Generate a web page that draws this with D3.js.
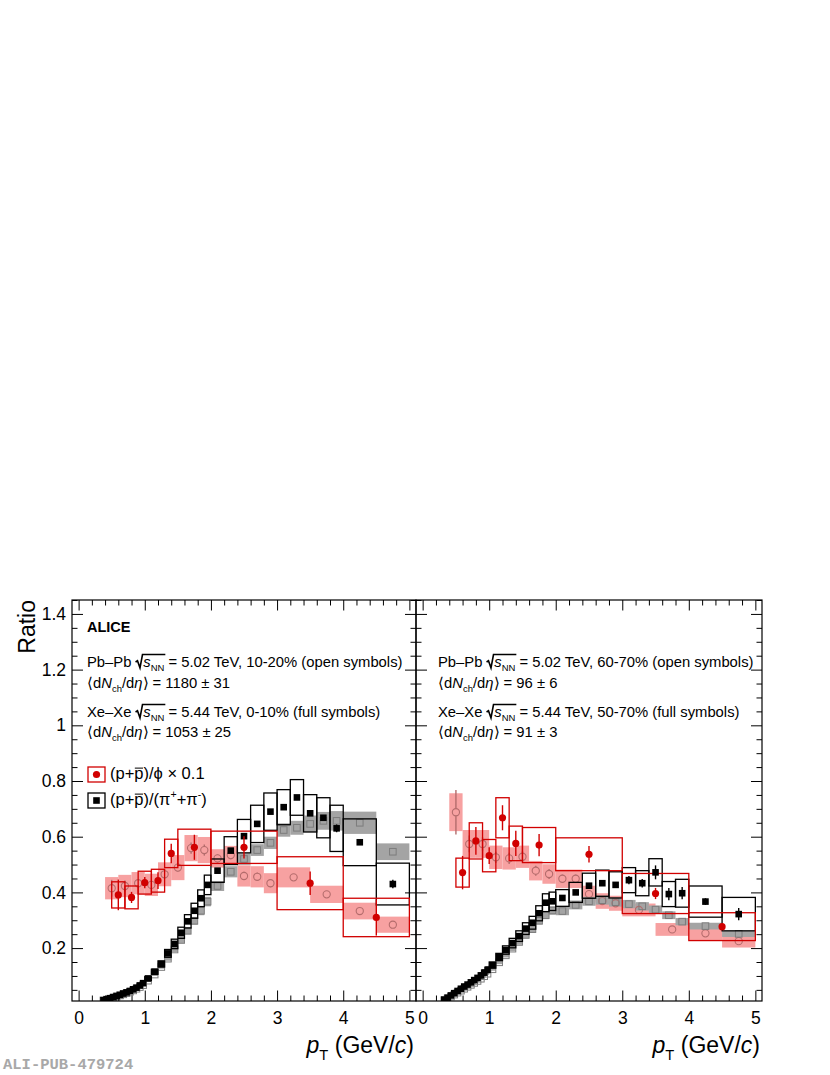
<!DOCTYPE html>
<html>
<head>
<meta charset="utf-8">
<script src="https://cdn.jsdelivr.net/npm/d3@7"></script>
<style>
  body { margin: 0; background: #fff; }
  svg { display: block; font-family: "Liberation Sans", Arial, sans-serif; }
  text { white-space: pre; }
</style>
</head>
<body>
<div id="chart"></div>
<script>
// ---- axes ----
const xTicks = [0, 1, 2, 3, 4, 5];
const yTicks = [0.2, 0.4, 0.6, 0.8, 1, 1.2, 1.4];

// ---- pT bin edges ----
const piEdges = [0.3, 0.35, 0.4, 0.45, 0.5, 0.55, 0.6, 0.65, 0.7, 0.75, 0.8, 0.85, 0.9, 0.95, 1.0,
  1.1, 1.2, 1.3, 1.4, 1.5, 1.6, 1.7, 1.8, 1.9, 2.0, 2.2, 2.4, 2.6, 2.8, 3.0, 3.2, 3.4, 3.6, 3.8, 4.0, 4.5, 5.0];
const phiPbEdges = [0.4, 0.6, 0.8, 1.0, 1.2, 1.4, 1.6, 1.8, 2.0, 2.2, 2.4, 2.6, 2.8, 3.0, 3.5, 4.0, 4.5, 5.0];
const phiXeEdges = [0.5, 0.7, 0.9, 1.1, 1.3, 1.5, 2.0, 3.0, 4.0, 5.0];

// ---- left panel: Xe-Xe 0-10% (full), Pb-Pb 10-20% (open) ----
const xePhiC     = [0.391, 0.382, 0.435, 0.442, 0.540, 0.562, 0.562, 0.433, 0.310];
const xePhiCStat = [0.055, 0.020, 0.020, 0.030, 0.035, 0.045, 0.040, 0.042, 0.065];
const xePhiCSys  = [0.047, 0.041, 0.041, 0.041, 0.051, 0.065, 0.058, 0.095, 0.069];

const pbPhiC     = [0.415, 0.423, 0.433, 0.427, 0.465, 0.489, 0.559, 0.552, 0.522, 0.534, 0.459, 0.456, 0.433, 0.454, 0.393, 0.333, 0.284];
const pbPhiCStat = [0.030, 0.020, 0.015, 0.015, 0.015, 0.015, 0.020, 0.020, 0.015, 0.015, 0.015, 0.015, 0.015, 0.012, 0.012, 0.010, 0.010];
const pbPhiCSys  = [0.040, 0.040, 0.040, 0.040, 0.043, 0.045, 0.047, 0.047, 0.033, 0.033, 0.038, 0.038, 0.036, 0.036, 0.031, 0.030, 0.029];

const xePiC = [null, 0.013, 0.016, 0.020, 0.024, 0.028, 0.032, 0.037, 0.041, 0.046, 0.052, 0.058, 0.066, 0.074,
  0.091, 0.115, 0.143, 0.181, 0.215, 0.255, 0.296, 0.334, 0.379, 0.427,
  0.478, 0.550, 0.602, 0.646, 0.690, 0.706, 0.741, 0.684, 0.668, 0.630, 0.580, 0.430];
const xePiCStat = [null, 0.001, 0.001, 0.001, 0.001, 0.001, 0.001, 0.001, 0.001, 0.001, 0.001, 0.001, 0.001, 0.001,
  0.002, 0.002, 0.002, 0.003, 0.003, 0.003, 0.003, 0.003, 0.004, 0.004,
  0.004, 0.004, 0.005, 0.005, 0.005, 0.006, 0.006, 0.007, 0.010, 0.014, 0.010, 0.015];
const xePiCSys = [null, 0.001, 0.0013, 0.0016, 0.0019, 0.0022, 0.0026, 0.003, 0.0033, 0.0037, 0.0042, 0.0046, 0.0053, 0.0059,
  0.007, 0.009, 0.011, 0.014, 0.017, 0.020, 0.024, 0.027, 0.030, 0.035,
  0.042, 0.050, 0.060, 0.067, 0.067, 0.063, 0.064, 0.067, 0.072, 0.083, 0.084, 0.075];

const pbPiC = [null, 0.012, 0.015, 0.018, 0.022, 0.026, 0.030, 0.034, 0.038, 0.043, 0.048, 0.054, 0.060, 0.067,
  0.083, 0.105, 0.132, 0.162, 0.195, 0.229, 0.262, 0.298, 0.334, 0.367,
  0.423, 0.474, 0.520, 0.552, 0.578, 0.624, 0.632, 0.646, 0.657, 0.657, 0.650, 0.546];
const pbPiCSys = [null, 0.0006, 0.0007, 0.0009, 0.001, 0.0012, 0.0014, 0.0016, 0.0018, 0.002, 0.0023, 0.0026, 0.0029, 0.0032,
  0.004, 0.005, 0.006, 0.0075, 0.009, 0.011, 0.012, 0.014, 0.016, 0.017,
  0.018, 0.020, 0.021, 0.021, 0.022, 0.024, 0.025, 0.030, 0.032, 0.035, 0.040, 0.030];

// ---- right panel: Xe-Xe 50-70% (full), Pb-Pb 60-70% (open) ----
const xePhiP     = [0.471, 0.585, 0.532, 0.668, 0.576, 0.570, 0.537, 0.396, 0.277];
const xePhiPStat = [0.060, 0.050, 0.030, 0.045, 0.045, 0.040, 0.030, 0.020, 0.010];
const xePhiPSys  = [0.052, 0.065, 0.058, 0.072, 0.062, 0.063, 0.059, 0.072, 0.050];

const pbPhiP     = [0.688, 0.574, 0.574, 0.526, 0.522, 0.528, 0.478, 0.466, 0.449, 0.449, 0.394, 0.369, 0.361, 0.337, 0.267, 0.253, 0.225];
const pbPhiPStat = [0.080, 0.030, 0.025, 0.020, 0.020, 0.020, 0.018, 0.018, 0.015, 0.015, 0.012, 0.012, 0.012, 0.010, 0.010, 0.010, 0.010];
const pbPhiPSys  = [0.068, 0.050, 0.050, 0.042, 0.040, 0.040, 0.035, 0.035, 0.033, 0.033, 0.030, 0.028, 0.027, 0.023, 0.023, 0.024, 0.023];

const xePiP = [0.015, 0.022, 0.030, 0.038, 0.046, 0.054, 0.062, 0.069, 0.077, 0.085, 0.093, 0.102, 0.112, 0.122,
  0.139, 0.168, 0.193, 0.218, 0.243, 0.270, 0.291, 0.325, 0.363, 0.368,
  0.380, 0.400, 0.424, 0.433, 0.427, 0.444, 0.433, 0.472, 0.394, 0.397, 0.367, 0.322];
const xePiPStat = [0.001, 0.001, 0.001, 0.001, 0.001, 0.001, 0.001, 0.001, 0.001, 0.001, 0.002, 0.002, 0.002, 0.002,
  0.002, 0.003, 0.003, 0.003, 0.003, 0.004, 0.004, 0.004, 0.005, 0.005,
  0.005, 0.006, 0.007, 0.008, 0.010, 0.015, 0.015, 0.025, 0.022, 0.022, 0.012, 0.022];
const xePiPSys = [0.0012, 0.0018, 0.0024, 0.003, 0.0037, 0.0043, 0.005, 0.0055, 0.006, 0.0068, 0.0074, 0.008, 0.009, 0.010,
  0.011, 0.013, 0.015, 0.017, 0.019, 0.021, 0.023, 0.027, 0.032, 0.033,
  0.030, 0.036, 0.045, 0.047, 0.047, 0.045, 0.045, 0.049, 0.045, 0.050, 0.056, 0.060];

const pbPiP = [0.013, 0.019, 0.026, 0.033, 0.040, 0.047, 0.054, 0.061, 0.068, 0.075, 0.082, 0.090, 0.099, 0.108,
  0.124, 0.149, 0.174, 0.198, 0.222, 0.247, 0.268, 0.298, 0.318, 0.335,
  0.333, 0.355, 0.368, 0.372, 0.365, 0.358, 0.350, 0.338, 0.318, 0.295, 0.279, 0.251];
const pbPiPSys = [0.0006, 0.0009, 0.0012, 0.0015, 0.0018, 0.0021, 0.0024, 0.0027, 0.003, 0.0033, 0.0036, 0.004, 0.0044, 0.0048,
  0.0055, 0.0066, 0.0077, 0.0088, 0.0099, 0.011, 0.012, 0.013, 0.014, 0.015,
  0.015, 0.016, 0.016, 0.016, 0.016, 0.015, 0.015, 0.015, 0.014, 0.013, 0.012, 0.011];

// ---- texts ----
const panelTexts = [
  { pb: " = 5.02 TeV, 10-20% (open symbols)", pbN: "⟩ = 1180 ± 31",
    xe: " = 5.44 TeV, 0-10% (full symbols)", xeN: "⟩ = 1053 ± 25" },
  { pb: " = 5.02 TeV, 60-70% (open symbols)", pbN: "⟩ = 96 ± 6",
    xe: " = 5.44 TeV, 50-70% (full symbols)", xeN: "⟩ = 91 ± 3" }
];

const W = 830, H = 1075;
const RED = "#d10000", PINK = "#f7a1a1", GRAY = "#a4a4a4", OPENRED = "#b46c6c", OPENGRAY = "#7c7c7c";

const svg = d3.select("#chart").append("svg").attr("width", W).attr("height", H);
svg.append("rect").attr("width", W).attr("height", H).attr("fill", "#fff");

const y = d3.scaleLinear().domain([0.01, 1.45]).range([1001, 600]);

const panels = [
  { x0: 72, x1: 416, txtX: 87, yLabels: true,
    xePhi: xePhiC, xePhiStat: xePhiCStat, xePhiSys: xePhiCSys,
    pbPhi: pbPhiC, pbPhiStat: pbPhiCStat, pbPhiSys: pbPhiCSys,
    xePi: xePiC, xePiStat: xePiCStat, xePiSys: xePiCSys,
    pbPi: pbPiC, pbPiSys: pbPiCSys },
  { x0: 416, x1: 762, txtX: 438, yLabels: false,
    xePhi: xePhiP, xePhiStat: xePhiPStat, xePhiSys: xePhiPSys,
    pbPhi: pbPhiP, pbPhiStat: pbPhiPStat, pbPhiSys: pbPhiPSys,
    xePi: xePiP, xePiStat: xePiPStat, xePiSys: xePiPSys,
    pbPi: pbPiP, pbPiSys: pbPiPSys }
];

function rows(edges, vals, errs) {
  return d3.pairs(edges).map((e, i) => ({ lo: e[0], hi: e[1], c: (e[0] + e[1]) / 2, v: vals[i], e: errs ? errs[i] : 0 }))
    .filter(d => d.v != null);
}

function boxes(g, x, data, fill, stroke) {
  g.append("g").selectAll("rect").data(data).join("rect")
    .attr("x", d => x(d.lo)).attr("width", d => x(d.hi) - x(d.lo))
    .attr("y", d => y(d.v + d.e)).attr("height", d => y(d.v - d.e) - y(d.v + d.e))
    .attr("fill", fill).attr("stroke", stroke).attr("stroke-width", stroke === "none" ? 0 : 1.3);
}

function bars(g, x, data, color, gap) {
  const gb = g.append("g").attr("stroke", color).attr("stroke-width", 1.4);
  data.forEach(d => {
    const yc = y(d.v), yt = y(d.v + d.e), yb = y(d.v - d.e);
    if (yc - yt <= gap) return;
    gb.append("line").attr("x1", x(d.c)).attr("x2", x(d.c)).attr("y1", yt).attr("y2", yc - gap);
    gb.append("line").attr("x1", x(d.c)).attr("x2", x(d.c)).attr("y1", yc + gap).attr("y2", yb);
  });
}

function circles(g, x, data, fill, stroke) {
  g.append("g").selectAll("circle").data(data).join("circle")
    .attr("cx", d => x(d.c)).attr("cy", d => y(d.v)).attr("r", 3.6)
    .attr("fill", fill).attr("stroke", stroke).attr("stroke-width", 1.1);
}

function squares(g, x, data, fill, stroke) {
  const s = 6.6;
  g.append("g").selectAll("rect").data(data).join("rect")
    .attr("x", d => x(d.c) - s / 2).attr("y", d => y(d.v) - s / 2)
    .attr("width", s).attr("height", s)
    .attr("fill", fill).attr("stroke", stroke).attr("stroke-width", 1);
}

// rich text: segments with italic, sub, sup, overline and sqrt
function rich(g, x, yb, parts, fs) {
  let cx = x;
  parts.forEach(p => {
    if (p.sqrt) {
      const x0 = cx;
      const end = rich(g, x0 + fs * 0.52, yb, p.sqrt, fs);
      g.append("path")
        .attr("d", `M${x0},${yb - fs * 0.34} L${x0 + fs * 0.13},${yb - fs * 0.42} L${x0 + fs * 0.3},${yb + fs * 0.06} L${x0 + fs * 0.47},${yb - fs * 0.84} L${end + 1},${yb - fs * 0.84}`)
        .attr("fill", "none").attr("stroke", "#000").attr("stroke-width", 1.6);
      cx = end;
      return;
    }
    const small = p.sub || p.sup;
    const size = small ? fs * 0.64 : fs;
    const dy = p.sub ? fs * 0.3 : (p.sup ? -fs * 0.42 : 0);
    const t = g.append("text").attr("x", cx).attr("y", yb + dy).attr("font-size", size).text(p.t);
    if (p.i) t.attr("font-style", "italic");
    if (p.b) t.attr("font-weight", "bold");
    const w = t.node().getComputedTextLength();
    if (p.bar) {
      g.append("line").attr("x1", cx + 0.5).attr("x2", cx + w - 0.5)
        .attr("y1", yb - fs * 0.66).attr("y2", yb - fs * 0.66)
        .attr("stroke", "#000").attr("stroke-width", 1);
    }
    cx += w;
  });
  return cx;
}

panels.forEach((P, pi) => {
  const x = d3.scaleLinear().domain([-0.1, 5.1]).range([P.x0, P.x1]);
  const clipId = "clip" + pi;
  svg.append("clipPath").attr("id", clipId).append("rect")
    .attr("x", P.x0).attr("y", 600).attr("width", P.x1 - P.x0).attr("height", 401);
  const g = svg.append("g").attr("clip-path", `url(#${clipId})`);

  const pbPhi = rows(phiPbEdges, P.pbPhi, P.pbPhiSys);
  const pbPhiS = rows(phiPbEdges, P.pbPhi, P.pbPhiStat);
  const xePhi = rows(phiXeEdges, P.xePhi, P.xePhiSys);
  const xePhiS = rows(phiXeEdges, P.xePhi, P.xePhiStat);
  const pbPi = rows(piEdges, P.pbPi, P.pbPiSys);
  const xePi = rows(piEdges, P.xePi, P.xePiSys);
  const xePiS = rows(piEdges, P.xePi, P.xePiStat);

  // systematic bands of Pb-Pb (filled)
  boxes(g, x, pbPhi, PINK, "none");
  boxes(g, x, pbPi, GRAY, "none");
  // Pb-Pb open markers
  bars(g, x, pbPhiS, OPENRED, 3.6);
  circles(g, x, pbPhi, "none", OPENRED);
  squares(g, x, pbPi, "none", OPENGRAY);
  // Xe-Xe systematic boxes (open)
  boxes(g, x, xePi, "none", "#000");
  boxes(g, x, xePhi, "none", RED);
  // Xe-Xe full markers
  bars(g, x, xePiS, "#000", 0);
  squares(g, x, xePi, "#000", "none");
  bars(g, x, xePhiS, RED, 0);
  circles(g, x, xePhi, RED, "none");

  // frame and ticks
  const ax = svg.append("g");
  const xMinor = d3.range(0, 26).map(i => +(i * 0.2).toFixed(1)).filter(v => !xTicks.includes(v));
  const yMinor = d3.range(1, 30).map(i => +(i * 0.05).toFixed(2)).filter(v => !yTicks.some(t => Math.abs(t - v) < 1e-6));
  const clean = s => s.select(".domain").remove();

  ax.append("g").attr("transform", "translate(0,1001)")
    .call(d3.axisBottom(x).tickValues(xTicks).tickSizeInner(-10.5).tickSizeOuter(0).tickPadding(11).tickFormat(d3.format("d")))
    .call(clean)
    .attr("font-size", 17.5).attr("font-family", "Liberation Sans, Arial, sans-serif");
  ax.append("g").attr("transform", "translate(0,1001)")
    .call(d3.axisBottom(x).tickValues(xMinor).tickSizeInner(-5.5).tickSizeOuter(0).tickFormat(""))
    .call(clean);
  ax.append("g").attr("transform", "translate(0,600)")
    .call(d3.axisTop(x).tickValues(xTicks).tickSizeInner(-10.5).tickSizeOuter(0).tickFormat(""))
    .call(clean);
  ax.append("g").attr("transform", "translate(0,600)")
    .call(d3.axisTop(x).tickValues(xMinor).tickSizeInner(-5.5).tickSizeOuter(0).tickFormat(""))
    .call(clean);

  ax.append("g").attr("transform", `translate(${P.x0},0)`)
    .call(d3.axisLeft(y).tickValues(yTicks).tickSizeInner(-11).tickSizeOuter(0).tickPadding(6)
      .tickFormat(P.yLabels ? (d => String(+d.toFixed(1))) : ""))
    .call(clean)
    .attr("font-size", 17.5).attr("font-family", "Liberation Sans, Arial, sans-serif");
  ax.append("g").attr("transform", `translate(${P.x0},0)`)
    .call(d3.axisLeft(y).tickValues(yMinor).tickSizeInner(-5.5).tickSizeOuter(0).tickFormat(""))
    .call(clean);
  ax.append("g").attr("transform", `translate(${P.x1},0)`)
    .call(d3.axisRight(y).tickValues(yTicks).tickSizeInner(-11).tickSizeOuter(0).tickFormat(""))
    .call(clean);
  ax.append("g").attr("transform", `translate(${P.x1},0)`)
    .call(d3.axisRight(y).tickValues(yMinor).tickSizeInner(-5.5).tickSizeOuter(0).tickFormat(""))
    .call(clean);

  svg.append("rect").attr("x", P.x0).attr("y", 600).attr("width", P.x1 - P.x0).attr("height", 401)
    .attr("fill", "none").attr("stroke", "#000").attr("stroke-width", 1.2);

  // x title, right aligned
  const xt = svg.append("g");
  const wt = rich(xt, 0, 0, [{ t: "p", i: 1 }, { t: "T", sub: 1 }, { t: " (GeV/" }, { t: "c", i: 1 }, { t: ")" }], 23);
  xt.attr("transform", `translate(${P.x1 - 2 - wt},1053)`);

  // annotations
  const T = panelTexts[pi];
  const tg = svg.append("g").attr("fill", "#000");
  const fs = 14.8;
  rich(tg, P.txtX, 667, [{ t: "Pb–Pb " }, { sqrt: [{ t: "s", i: 1 }, { t: "NN", sub: 1 }] }, { t: T.pb }], fs);
  rich(tg, P.txtX, 688, [{ t: "⟨d" }, { t: "N", i: 1 }, { t: "ch", sub: 1 }, { t: "/d" }, { t: "η", i: 1 }, { t: T.pbN }], fs);
  rich(tg, P.txtX, 717, [{ t: "Xe–Xe " }, { sqrt: [{ t: "s", i: 1 }, { t: "NN", sub: 1 }] }, { t: T.xe }], fs);
  rich(tg, P.txtX, 737, [{ t: "⟨d" }, { t: "N", i: 1 }, { t: "ch", sub: 1 }, { t: "/d" }, { t: "η", i: 1 }, { t: T.xeN }], fs);
});

// ALICE label
svg.append("text").attr("x", 87).attr("y", 632).attr("font-size", 14.5).attr("font-weight", "bold").text("ALICE");

// legend
const lg = svg.append("g");
lg.append("rect").attr("x", 88).attr("y", 767).attr("width", 17).attr("height", 15)
  .attr("fill", "none").attr("stroke", RED).attr("stroke-width", 1.3);
lg.append("circle").attr("cx", 96.5).attr("cy", 774.5).attr("r", 3.6).attr("fill", RED);
lg.append("rect").attr("x", 88).attr("y", 793).attr("width", 17).attr("height", 15)
  .attr("fill", "none").attr("stroke", "#000").attr("stroke-width", 1.3);
lg.append("rect").attr("x", 93.2).attr("y", 797.2).attr("width", 6.6).attr("height", 6.6).attr("fill", "#000");
rich(lg, 110, 779, [{ t: "(p+" }, { t: "p", bar: 1 }, { t: ")/ϕ × 0.1" }], 16.5);
rich(lg, 110, 805, [{ t: "(p+" }, { t: "p", bar: 1 }, { t: ")/(π" }, { t: "+", sup: 1 }, { t: "+π" }, { t: "-", sup: 1 }, { t: ")" }], 16.5);

// y title
svg.append("text").attr("transform", "translate(35,600) rotate(-90)")
  .attr("text-anchor", "end").attr("font-size", 23).text("Ratio");

// publication id
svg.append("text").attr("x", 3).attr("y", 1069).attr("font-size", 15.5).attr("font-weight", "bold")
  .attr("font-family", "Liberation Mono, DejaVu Sans Mono, monospace").attr("fill", "#a8a8a8")
  .text("ALI-PUB-479724");
</script>
</body>
</html>
